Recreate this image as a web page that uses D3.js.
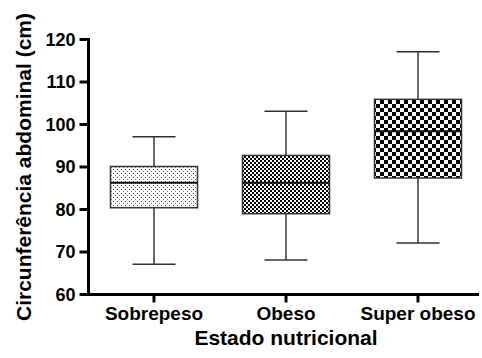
<!DOCTYPE html>
<html><head><meta charset="utf-8">
<script src="https://cdn.jsdelivr.net/npm/d3@7"></script>
<style>body{margin:0;background:#fff}svg{display:block}text{font-family:"Liberation Sans",Arial,sans-serif;font-weight:bold;fill:#000}</style>
</head><body>
<script>
const categories = ["Sobrepeso", "Obeso", "Super obeso"];
const whiskerLow = [67, 68, 72];
const q1 = [80.3, 78.9, 87.3];
const median = [86.2, 86.2, 98.3];
const q3 = [90, 92.6, 105.8];
const whiskerHigh = [97, 103, 117];
const yTicks = [60, 70, 80, 90, 100, 110, 120];
const patterns = ["dots", "fine", "coarse"];

const W = 482, H = 358;
const svg = d3.select("body").append("svg").attr("width", W).attr("height", H);
const defs = svg.append("defs");

const p1 = defs.append("pattern").attr("id", "dots").attr("patternUnits", "userSpaceOnUse").attr("width", 4).attr("height", 4);
p1.append("rect").attr("width", 4).attr("height", 4).attr("fill", "#fff");
p1.append("rect").attr("x", 1).attr("y", 1).attr("width", 1).attr("height", 1).attr("fill", "#444");
p1.append("rect").attr("x", 3).attr("y", 3).attr("width", 1).attr("height", 1).attr("fill", "#777");

const p2 = defs.append("pattern").attr("id", "fine").attr("patternUnits", "userSpaceOnUse").attr("width", 4).attr("height", 4);
p2.append("rect").attr("width", 4).attr("height", 4).attr("fill", "#fff");
p2.append("rect").attr("x", 0).attr("y", 0).attr("width", 2).attr("height", 2).attr("fill", "#000");
p2.append("rect").attr("x", 2).attr("y", 2).attr("width", 2).attr("height", 2).attr("fill", "#000");

const p3 = defs.append("pattern").attr("id", "coarse").attr("patternUnits", "userSpaceOnUse").attr("width", 8).attr("height", 8);
p3.append("rect").attr("width", 8).attr("height", 8).attr("fill", "#fff");
p3.append("rect").attr("x", 0).attr("y", 0).attr("width", 4).attr("height", 4).attr("fill", "#000");
p3.append("rect").attr("x", 4).attr("y", 4).attr("width", 4).attr("height", 4).attr("fill", "#000");

const x = d3.scaleBand().domain(categories).range([88, 484]).padding(0);
const y = d3.scaleLinear().domain([60, 120]).range([294, 39]);

const boxW = 87, capW = 43;

const g = svg.append("g");
categories.forEach((c, i) => {
  const cx = x(c) + x.bandwidth() / 2;
  const ln = (x1, y1, x2, y2, w, col) => g.append("line").attr("x1", x1).attr("y1", y1).attr("x2", x2).attr("y2", y2).attr("stroke", col).attr("stroke-width", w);
  ln(cx, y(whiskerHigh[i]), cx, y(q3[i]), 1.5, "#333");
  ln(cx, y(q1[i]), cx, y(whiskerLow[i]), 1.5, "#333");
  ln(cx - capW / 2, y(whiskerHigh[i]), cx + capW / 2, y(whiskerHigh[i]), 1.5, "#333");
  ln(cx - capW / 2, y(whiskerLow[i]), cx + capW / 2, y(whiskerLow[i]), 1.5, "#333");
  g.append("rect").attr("x", cx - boxW / 2).attr("y", y(q3[i])).attr("width", boxW).attr("height", y(q1[i]) - y(q3[i]))
    .attr("fill", `url(#${patterns[i]})`).attr("stroke", "#333").attr("stroke-width", 1.5);
  ln(cx - boxW / 2, y(median[i]), cx + boxW / 2, y(median[i]), 2, "#111");
});

const yAxis = svg.append("g").attr("transform", "translate(88.5,0)")
  .call(d3.axisLeft(y).tickValues(yTicks).tickSize(9).tickPadding(4));
yAxis.select(".domain").attr("stroke", "#000").attr("stroke-width", 3).attr("d", `M0,${y(120)-1}V${y(60)+1.5}`);
yAxis.selectAll(".tick line").attr("stroke", "#000").attr("stroke-width", 3);
yAxis.selectAll(".tick text").style("font-size", "18px").attr("dy", "0.36em");

const xAxis = svg.append("g").attr("transform", "translate(0,294.5)")
  .call(d3.axisBottom(x).tickSize(8).tickPadding(4));
xAxis.select(".domain").attr("stroke", "#000").attr("stroke-width", 3).attr("d", "M87,0H479");
xAxis.selectAll(".tick line").attr("stroke", "#000").attr("stroke-width", 3);
xAxis.selectAll(".tick text").style("font-size", "19px").attr("dy", null).attr("y", 25);

svg.append("text").attr("x", 286).attr("y", 345).attr("text-anchor", "middle").style("font-size", "21px").text("Estado nutricional");
svg.append("text").attr("transform", "translate(31,167) rotate(-90)").attr("text-anchor", "middle").style("font-size", "21px").text("Circunferência abdominal (cm)");
</script>
</body></html>
